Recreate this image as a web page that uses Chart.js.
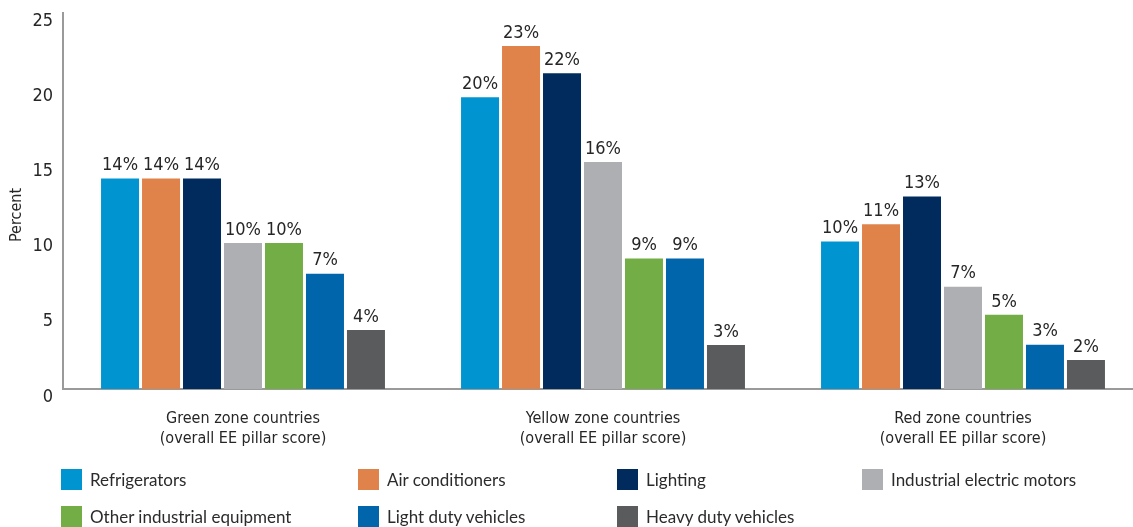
<!DOCTYPE html>
<html>
<head>
<meta charset="utf-8">
<script src="https://cdn.jsdelivr.net/npm/chart.js@4.4.1/dist/chart.umd.min.js"></script>
<style>
  html, body { margin: 0; padding: 0; background: #fff; overflow: hidden; }
  #wrap { position: relative; width: 1133px; height: 527px; overflow: hidden; }
  canvas { position: absolute; left: 0; top: 0; }
  #legend { position: absolute; left: 61px; top: 469px; display: grid;
    grid-template-columns: 297px 259px 245px 230px; row-gap: 16px;
    font-family: Lato, "Open Sans", sans-serif; font-size: 17px; color: #2b2b2b; }
  .item { display: flex; align-items: center; height: 21px; white-space: nowrap; }
  .sw { width: 21px; height: 21px; margin-right: 8px; flex: none; }
</style>
</head>
<body>
<div id="wrap">
  <canvas id="c" width="1145" height="527"></canvas>
  <div id="legend"></div>
</div>
<script>
// 그룹 (x축 카테고리)
const categories = [
  ['Green zone countries', '(overall EE pillar score)'],
  ['Yellow zone countries', '(overall EE pillar score)'],
  ['Red zone countries', '(overall EE pillar score)']
];

const seriesNames = [
  'Refrigerators',
  'Air conditioners',
  'Lighting',
  'Industrial electric motors',
  'Other industrial equipment',
  'Light duty vehicles',
  'Heavy duty vehicles'
];

const seriesColors = ['#0095d1', '#e0834a', '#002b5c', '#aeafb2', '#72ae45', '#0065aa', '#5a5b5d'];

// 막대 높이 - 그룹 순서: green, yellow, red
const refrigerators = [14.0, 19.4, 9.8];
const airConditioners = [14.0, 22.8, 10.95];
const lighting = [14.0, 21.0, 12.8];
const industrialMotors = [9.7, 15.1, 6.8];
const otherIndustrial = [9.7, 8.67, 4.93];
const lightDuty = [7.67, 8.67, 2.95];
const heavyDuty = [3.93, 2.93, 1.93];

// 막대 위 라벨
const labelsRefrigerators = ['14%', '20%', '10%'];
const labelsAirConditioners = ['14%', '23%', '11%'];
const labelsLighting = ['14%', '22%', '13%'];
const labelsIndustrialMotors = ['10%', '16%', '7%'];
const labelsOtherIndustrial = ['10%', '9%', '5%'];
const labelsLightDuty = ['7%', '9%', '3%'];
const labelsHeavyDuty = ['4%', '3%', '2%'];

const yTicks = [0, 5, 10, 15, 20, 25];
const yTitle = 'Percent';

const seriesValues = [refrigerators, airConditioners, lighting, industrialMotors, otherIndustrial, lightDuty, heavyDuty];
const seriesLabels = [labelsRefrigerators, labelsAirConditioners, labelsLighting, labelsIndustrialMotors, labelsOtherIndustrial, labelsLightDuty, labelsHeavyDuty];

const NARROW = '"Liberation Sans Narrow", "DejaVu Sans Condensed", "Roboto", sans-serif';
const TEXT = '#262626';

// 막대 위 퍼센트 라벨 + y축 제목
const valueLabels = {
  id: 'valueLabels',
  afterDatasetsDraw(chart) {
    const ctx = chart.ctx;
    ctx.save();
    ctx.font = '18px ' + NARROW;
    ctx.fillStyle = TEXT;
    ctx.textAlign = 'center';
    ctx.textBaseline = 'bottom';
    chart.data.datasets.forEach((ds, i) => {
      chart.getDatasetMeta(i).data.forEach((bar, j) => {
        ctx.fillText(seriesLabels[i][j], bar.x, bar.y - 4);
      });
    });
    // y축 제목 (원본은 중앙보다 약간 아래)
    const a = chart.chartArea;
    ctx.translate(17, (a.top + a.bottom) / 2 + 14);
    ctx.rotate(-Math.PI / 2);
    ctx.textBaseline = 'middle';
    ctx.font = '16px ' + NARROW;
    ctx.fillText(yTitle, 0, 0);
    ctx.restore();
  }
};

new Chart(document.getElementById('c'), {
  type: 'bar',
  data: {
    labels: categories,
    datasets: seriesNames.map((name, i) => ({
      label: name,
      data: seriesValues[i],
      backgroundColor: seriesColors[i],
      borderWidth: 0,
      barPercentage: 0.927,
      categoryPercentage: 0.797
    }))
  },
  options: {
    responsive: false,
    animation: false,
    layout: { padding: { top: 13, right: 2, left: 0, bottom: 0 } },
    plugins: { legend: { display: false }, tooltip: { enabled: false } },
    scales: {
      x: {
        grid: { display: false, drawTicks: false },
        border: { display: true, color: '#9a9a9a', width: 2 },
        ticks: {
          padding: 19,
          color: TEXT,
          font: { family: NARROW, size: 16, lineHeight: 1.3 },
          maxRotation: 0
        },
        afterFit(scale) { scale.height = 138; }
      },
      y: {
        min: 0,
        max: 25,
        afterBuildTicks(scale) { scale.ticks = yTicks.map(v => ({ value: v })); },
        grid: { display: false, drawTicks: false },
        border: { display: true, color: '#9a9a9a', width: 2 },
        ticks: {
          padding: 10,
          labelOffset: 8,
          color: TEXT,
          font: { family: NARROW, size: 18 }
        },
        afterFit(scale) {
          scale.width = 63;
          scale.paddingTop = 0;
          scale.paddingBottom = 0;
        }
      }
    }
  },
  plugins: [valueLabels]
});

// HTML 범례 (4열 격자)
const legend = document.getElementById('legend');
seriesNames.forEach((name, i) => {
  const item = document.createElement('div');
  item.className = 'item';
  item.innerHTML = '<span class="sw" style="background:' + seriesColors[i] + '"></span>' + name;
  legend.appendChild(item);
});
</script>
</body>
</html>
